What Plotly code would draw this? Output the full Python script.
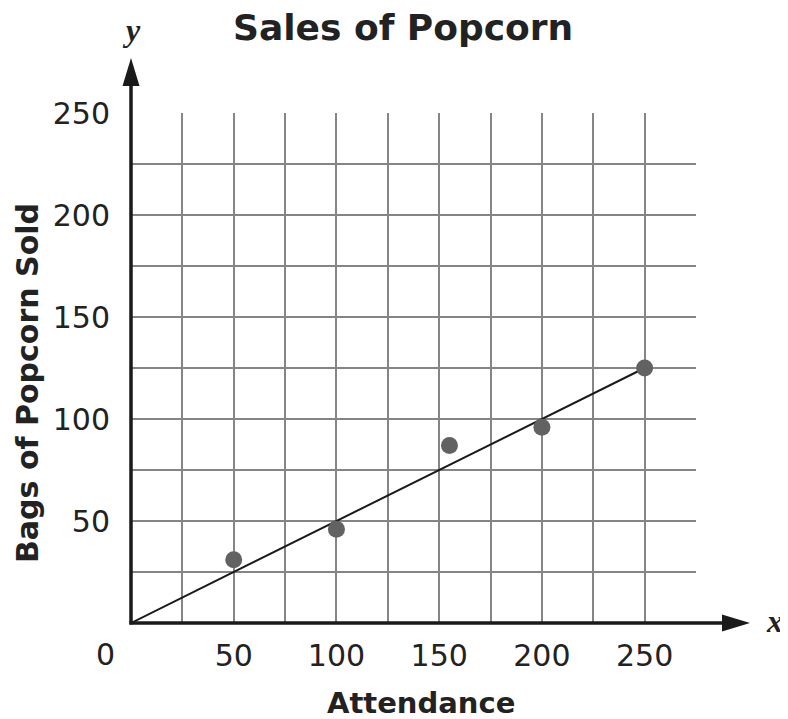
import plotly.graph_objects as go

# Data
attendance = [50, 100, 155, 200, 250]
bags_sold = [31, 46, 87, 96, 125]
trend_x = [0, 250]
trend_y = [0, 125]
x_tick_vals = [50, 100, 150, 200, 250]
x_tick_text = ["50", "100", "150", "200", "250"]
y_tick_vals = [50, 100, 150, 200, 250]
y_tick_text = ["50", "100", "150", "200", "250"]

OFF = 8  # page body margin
W, H = 788 - OFF, 719 - OFF
# plot area in screen pixels: x 131..696, y 113..623
L, R, T, B = 131 - OFF, 788 - 696, 113 - OFF, 719 - 623
pw, ph = W - L - R, H - T - B

def px(xs):
    return (xs - OFF - L) / pw

def py(ys):
    return (H - B - (ys - OFF)) / ph

grid_color = "#858585"
text_color = "#222222"
tick_font = dict(family="DejaVu Sans", size=30, color=text_color)

fig = go.Figure()
fig.add_trace(go.Scatter(x=trend_x, y=trend_y, mode="lines",
                         line=dict(color="#1a1a1a", width=2), showlegend=False,
                         hoverinfo="skip"))
fig.add_trace(go.Scatter(x=attendance, y=bags_sold, mode="markers",
                         marker=dict(color="#626262", size=17), showlegend=False))

common = dict(
    showgrid=True, gridcolor=grid_color, gridwidth=1.6,
    zeroline=False, showline=False,
    minor=dict(dtick=25, tick0=0, showgrid=True, gridcolor=grid_color, gridwidth=1.6),
    tickfont=tick_font, ticks="", fixedrange=True,
)
fig.update_xaxes(range=[0, 275], tickmode="array", tickvals=x_tick_vals,
                 ticktext=x_tick_text, ticklabelstandoff=12, **common)
fig.update_yaxes(range=[0, 250], tickmode="array", tickvals=y_tick_vals,
                 ticktext=y_tick_text, ticklabelstandoff=20, **common)

shapes = []
axis_col = "#1a1a1a"
# x axis line + arrow
shapes.append(dict(type="line", xref="paper", yref="paper", x0=px(129.5), y0=0,
                   x1=px(728), y1=0, line=dict(color=axis_col, width=3.5)))
shapes.append(dict(type="path", xref="paper", yref="paper",
                   path=f"M {px(750)} {py(623)} L {px(722)} {py(614.5)} L {px(722)} {py(631.5)} Z",
                   fillcolor=axis_col, line=dict(color=axis_col, width=0)))
# y axis line + arrow
shapes.append(dict(type="line", xref="paper", yref="paper", x0=0, y0=py(624.5),
                   x1=0, y1=py(80), line=dict(color=axis_col, width=3.5)))
shapes.append(dict(type="path", xref="paper", yref="paper",
                   path=f"M {px(131)} {py(58)} L {px(122.5)} {py(86)} L {px(139.5)} {py(86)} Z",
                   fillcolor=axis_col, line=dict(color=axis_col, width=0)))

annotations = [
    dict(text="<b>Sales of Popcorn</b>", xref="paper", yref="paper",
         x=px(403), y=py(28), showarrow=False, xanchor="center", yanchor="middle",
         font=dict(family="DejaVu Sans", size=36, color=text_color)),
    dict(text="<b>Attendance</b>", xref="paper", yref="paper",
         x=px(421), y=py(703), showarrow=False, xanchor="center", yanchor="middle",
         font=dict(family="DejaVu Sans", size=29, color=text_color)),
    dict(text="<b>Bags of Popcorn Sold</b>", xref="paper", yref="paper",
         x=px(27), y=py(383), showarrow=False, xanchor="center", yanchor="middle",
         textangle=-90, font=dict(family="DejaVu Sans", size=30, color=text_color)),
    dict(text="0", xref="paper", yref="paper",
         x=px(105), y=py(654), showarrow=False, xanchor="center", yanchor="middle",
         font=tick_font),
    dict(text="<b><i>y</i></b>", xref="paper", yref="paper",
         x=px(131), y=py(30), showarrow=False, xanchor="center", yanchor="middle",
         font=dict(family="Liberation Serif", size=32, color=text_color)),
    dict(text="<b><i>x</i></b>", xref="paper", yref="paper",
         x=px(774), y=py(621), showarrow=False, xanchor="center", yanchor="middle",
         font=dict(family="Liberation Serif", size=32, color=text_color)),
]

fig.update_layout(
    width=W, height=H,
    margin=dict(l=L, r=R, t=T, b=B, autoexpand=False),
    paper_bgcolor="white", plot_bgcolor="white",
    shapes=shapes, annotations=annotations,
    showlegend=False,
)

fig.write_html("out.html")
